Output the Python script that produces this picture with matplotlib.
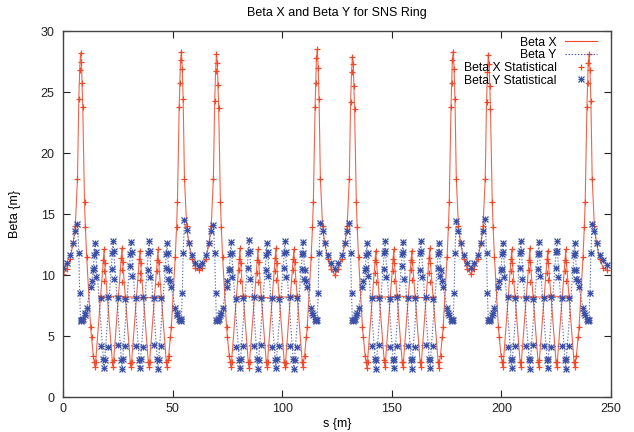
import numpy as np
import matplotlib.pyplot as plt
from matplotlib.lines import Line2D
from matplotlib.legend_handler import HandlerTuple

plt.rcParams['font.family'] = ['Liberation Sans', 'DejaVu Sans']
nan = np.nan

# lattice points, s in m
s_line = [
    # straight section around s=0 (right half)
    0.0, 1.6, 3.2, 4.6, 5.6, 6.6, 7.2, 7.6, 8.0, 8.4, 8.7, 9.0, 9.8, 10.2, 10.8, 12.6, 13.0, 13.8,
    # arc 1
    14.3, 14.6, 14.9, 18.4, 18.7, 19.0, 22.5, 22.8, 23.1, 26.6, 26.9, 27.2, 30.7, 31.0, 31.3,
    34.8, 35.1, 35.4, 38.9, 39.2, 39.5, 43.0, 43.3, 43.6, 47.1, 47.4, 47.7,
    # straight around s=62
    48.2, 49.0, 49.4, 51.2, 51.8, 52.2, 53.0, 53.3, 53.6, 54.0, 54.4, 54.8, 55.4, 56.4, 57.4, 58.8, 60.4,
    62.0, 63.6, 65.2, 66.6, 67.6, 68.6, 69.2, 69.6, 70.0, 70.4, 70.7, 71.0, 71.8, 72.2, 72.8, 74.6, 75.0, 75.8,
    # arc 2
    76.3, 76.6, 76.9, 80.4, 80.7, 81.0, 84.5, 84.8, 85.1, 88.6, 88.9, 89.2, 92.7, 93.0, 93.3,
    96.8, 97.1, 97.4, 100.9, 101.2, 101.5, 105.0, 105.3, 105.6, 109.1, 109.4, 109.7,
    # straight around s=124
    110.2, 111.0, 111.4, 113.2, 113.8, 114.2, 115.0, 115.3, 115.6, 116.0, 116.4, 116.8, 117.4, 118.4, 119.4, 120.8, 122.4,
    124.0, 125.6, 127.2, 128.6, 129.6, 130.6, 131.2, 131.6, 132.0, 132.4, 132.7, 133.0, 133.8, 134.2, 134.8, 136.6, 137.0, 137.8,
    # arc 3
    138.3, 138.6, 138.9, 142.4, 142.7, 143.0, 146.5, 146.8, 147.1, 150.6, 150.9, 151.2, 154.7, 155.0, 155.3,
    158.8, 159.1, 159.4, 162.9, 163.2, 163.5, 167.0, 167.3, 167.6, 171.1, 171.4, 171.7,
    # straight around s=186
    172.2, 173.0, 173.4, 175.2, 175.8, 176.2, 177.0, 177.3, 177.6, 178.0, 178.4, 178.8, 179.4, 180.4, 181.4, 182.8, 184.4,
    186.0, 187.6, 189.2, 190.6, 191.6, 192.6, 193.2, 193.6, 194.0, 194.4, 194.7, 195.0, 195.8, 196.2, 196.8, 198.6, 199.0, 199.8,
    # arc 4
    200.3, 200.6, 200.9, 204.4, 204.7, 205.0, 208.5, 208.8, 209.1, 212.6, 212.9, 213.2, 216.7, 217.0, 217.3,
    220.8, 221.1, 221.4, 224.9, 225.2, 225.5, 229.0, 229.3, 229.6, 233.1, 233.4, 233.7,
    # straight around s=248 (left half)
    234.2, 235.0, 235.4, 237.2, 237.8, 238.2, 239.0, 239.3, 239.6, 240.0, 240.4, 240.8, 241.4, 242.4, 243.4, 244.8, 246.4, 248.0,
]

bx_line = [
    10.1, 10.5, 11.3, 12.6, 14.0, 17.9, 24.4, 26.8, 28.2, 27.5, 25.7, 23.8, 16.0, 13.9, 11.5, 5.7, 4.9, 3.4,
    2.9, 2.5, 2.9, 11.2, 12.1, 11.0, 2.9, 2.5, 3.0, 11.4, 12.2, 11.1, 2.8, 2.5, 2.9,
    11.3, 12.0, 11.0, 2.9, 2.5, 2.9, 11.2, 12.1, 11.1, 2.9, 2.5, 3.0,
    3.4, 4.9, 5.7, 11.5, 13.9, 16.0, 23.8, 25.7, 27.6, 28.3, 26.9, 24.4, 17.9, 14.0, 12.6, 11.3, 10.6,
    10.4, 10.6, 11.3, 12.6, 14.0, 17.9, 24.3, 26.7, 28.1, 27.4, 25.6, 23.7, 16.0, 13.9, 11.5, 5.7, 4.9, 3.4,
    2.9, 2.5, 2.9, 11.3, 12.2, 11.0, 2.9, 2.4, 2.9, 11.2, 12.1, 11.1, 2.9, 2.5, 2.9,
    11.4, 12.2, 11.0, 2.9, 2.5, 2.8, 11.3, 12.1, 11.1, 2.9, 2.5, 2.9,
    3.4, 4.9, 5.7, 11.5, 13.9, 16.0, 23.8, 25.7, 27.8, 28.5, 27.0, 24.4, 17.9, 14.0, 12.6, 11.3, 10.5,
    10.0, 10.5, 11.3, 12.6, 14.0, 17.9, 24.2, 26.6, 27.9, 27.3, 25.5, 23.6, 16.0, 13.9, 11.5, 5.7, 4.9, 3.4,
    2.9, 2.4, 2.9, 11.2, 12.0, 11.1, 3.0, 2.5, 2.9, 11.3, 12.1, 11.0, 2.9, 2.5, 2.9,
    11.2, 12.0, 11.1, 2.9, 2.5, 2.9, 11.4, 12.2, 11.0, 2.9, 2.4, 2.9,
    3.4, 4.9, 5.7, 11.5, 13.9, 16.0, 23.8, 25.7, 27.6, 28.3, 26.9, 24.4, 17.9, 14.0, 12.6, 11.3, 10.5,
    10.1, 10.5, 11.3, 12.6, 14.0, 17.9, 24.2, 26.6, 28.0, 27.3, 25.5, 23.6, 16.0, 13.9, 11.5, 5.7, 4.9, 3.4,
    2.9, 2.5, 2.9, 11.3, 12.1, 11.0, 2.9, 2.5, 2.9, 11.2, 12.2, 11.1, 2.9, 2.5, 3.0,
    11.3, 12.0, 11.0, 2.9, 2.5, 2.9, 11.2, 12.1, 11.1, 2.9, 2.5, 2.9,
    3.4, 4.9, 5.7, 11.5, 13.9, 16.0, 23.8, 25.7, 27.4, 28.1, 26.8, 24.3, 17.9, 14.0, 12.6, 11.3, 10.6, 10.4,
]

by_line = [
    10.6, 11.0, 11.6, 12.6, 13.6, 14.2, 11.8, 8.5, 6.3, 6.2, 6.3, 6.4, 6.7, 6.9, 7.3, 9.0, 9.5, 10.4,
    11.6, 12.6, 11.9, 3.1, 2.4, 3.0, 11.8, 12.8, 12.0, 3.0, 2.3, 3.1, 11.7, 12.7, 11.9,
    3.0, 2.4, 3.1, 11.8, 12.8, 12.0, 3.1, 2.3, 3.0, 11.7, 12.6, 11.8,
    10.4, 9.5, 9.0, 7.3, 6.9, 6.7, 6.4, 6.3, 6.2, 6.4, 8.5, 11.8, 14.5, 13.7, 12.6, 11.6, 11.0,
    10.7, 11.0, 11.6, 12.6, 13.6, 14.1, 11.8, 8.5, 6.3, 6.2, 6.3, 6.4, 6.7, 6.9, 7.3, 9.0, 9.5, 10.4,
    11.7, 12.7, 11.8, 3.0, 2.4, 3.1, 11.8, 12.9, 12.0, 3.1, 2.3, 3.0, 11.6, 12.6, 11.9,
    3.0, 2.4, 3.1, 11.8, 12.8, 11.9, 3.1, 2.3, 3.0, 11.7, 12.7, 11.8,
    10.4, 9.5, 9.0, 7.3, 6.9, 6.7, 6.4, 6.3, 6.2, 6.3, 8.5, 11.8, 14.3, 13.6, 12.6, 11.6, 11.0,
    10.5, 11.0, 11.6, 12.6, 13.6, 14.3, 11.8, 8.5, 6.3, 6.2, 6.3, 6.4, 6.7, 6.9, 7.3, 9.0, 9.5, 10.4,
    11.6, 12.6, 11.8, 3.1, 2.3, 3.0, 11.8, 12.8, 12.0, 3.0, 2.4, 3.1, 11.7, 12.7, 11.9,
    3.0, 2.3, 3.1, 11.8, 12.8, 12.0, 3.1, 2.4, 3.0, 11.7, 12.6, 11.9,
    10.4, 9.5, 9.0, 7.3, 6.9, 6.7, 6.4, 6.3, 6.2, 6.3, 8.5, 11.8, 14.4, 13.6, 12.6, 11.6, 11.0,
    10.6, 11.0, 11.6, 12.6, 13.6, 14.6, 11.8, 8.5, 6.3, 6.2, 6.3, 6.4, 6.7, 6.9, 7.3, 9.0, 9.5, 10.4,
    11.7, 12.6, 11.9, 3.0, 2.4, 3.1, 11.8, 12.8, 12.0, 3.1, 2.3, 3.0, 11.7, 12.7, 11.8,
    3.0, 2.4, 3.1, 11.9, 12.8, 12.0, 3.0, 2.3, 3.1, 11.6, 12.6, 11.8,
    10.4, 9.5, 9.0, 7.3, 6.9, 6.7, 6.4, 6.3, 6.2, 6.3, 8.5, 11.8, 14.2, 13.6, 12.6, 11.6, 11.2, 10.8,
]

# dipole points in the arcs (flat rows in the plot)
s_dip = [
    17.1, 20.3, 25.3, 28.5, 33.5, 36.7, 41.7, 44.9, nan,
    79.1, 82.3, 87.3, 90.5, 95.5, 98.7, 103.7, 106.9, nan,
    141.1, 144.3, 149.3, 152.5, 157.5, 160.7, 165.7, 168.9, nan,
    203.1, 206.3, 211.3, 214.5, 219.5, 222.7, 227.7, 230.9,
]
bx_dip = [
    8.2, 8.2, 8.3, 8.2, 8.2, 8.1, 8.2, 8.2, nan,
    8.2, 8.3, 8.2, 8.2, 8.1, 8.2, 8.2, 8.3, nan,
    8.2, 8.2, 8.2, 8.3, 8.2, 8.2, 8.1, 8.2, nan,
    8.3, 8.2, 8.2, 8.2, 8.2, 8.3, 8.2, 8.2,
]
by_dip_lo = [
    4.2, 4.1, 4.3, 4.2, 4.2, 4.1, 4.3, 4.2, nan,
    4.1, 4.2, 4.2, 4.3, 4.1, 4.2, 4.2, 4.1, nan,
    4.2, 4.3, 4.1, 4.2, 4.2, 4.1, 4.3, 4.2, nan,
    4.1, 4.2, 4.2, 4.3, 4.2, 4.1, 4.2, 4.2,
]
by_dip_hi = [
    8.1, 8.2, 8.1, 8.0, 8.1, 8.2, 8.1, 8.1, nan,
    8.0, 8.1, 8.2, 8.1, 8.1, 8.0, 8.2, 8.1, nan,
    8.1, 8.1, 8.0, 8.2, 8.1, 8.1, 8.2, 8.0, nan,
    8.2, 8.1, 8.1, 8.0, 8.1, 8.2, 8.1, 8.1,
]

# extra statistical samples stacked inside the arc quadrupoles
s_qf = [
    18.5, 18.9, 26.7, 27.1, 34.9, 35.3, 43.1, 43.5,
    80.5, 80.9, 88.7, 89.1, 96.9, 97.3, 105.1, 105.5,
    142.5, 142.9, 150.7, 151.1, 158.9, 159.3, 167.1, 167.5,
    204.5, 204.9, 212.7, 213.1, 220.9, 221.3, 229.1, 229.5,
]
bx_qf = [
    10.3, 9.5, 10.4, 9.4, 10.2, 9.6, 10.3, 9.3,
    10.4, 9.5, 10.2, 9.4, 10.3, 9.6, 10.4, 9.5,
    10.2, 9.4, 10.3, 9.5, 10.4, 9.6, 10.2, 9.4,
    10.3, 9.5, 10.4, 9.4, 10.2, 9.6, 10.3, 9.5,
]
s_qd = [
    14.2, 15.0, 22.4, 23.2, 30.6, 31.4, 38.8, 39.6, 47.0, 47.8,
    76.2, 77.0, 84.4, 85.2, 92.6, 93.4, 100.8, 101.6, 109.0, 109.8,
    138.2, 139.0, 146.4, 147.2, 154.6, 155.4, 162.8, 163.6, 171.0, 171.8,
    200.2, 201.0, 208.4, 209.2, 216.6, 217.4, 224.8, 225.6, 233.0, 233.8,
]
by_qd = [
    10.6, 9.8, 10.5, 9.7, 10.7, 9.9, 10.4, 9.8, 10.6, 9.7,
    10.5, 9.8, 10.6, 9.7, 10.4, 9.9, 10.6, 9.8, 10.5, 9.7,
    10.6, 9.9, 10.5, 9.8, 10.7, 9.7, 10.4, 9.8, 10.6, 9.9,
    10.5, 9.8, 10.6, 9.7, 10.5, 9.9, 10.6, 9.8, 10.4, 9.7,
]

red = '#ee4a2a'
blue = '#3b50a6'
dotted = (0, (1.2, 1.6))

fig = plt.figure(figsize=(6.34, 4.32), dpi=100)
ax = fig.add_axes([0.0994, 0.081, 0.8644, 0.8472])

ax.plot(s_line, bx_line, color=red, lw=0.8, alpha=0.85)
ax.plot(s_dip, bx_dip, color=red, lw=0.8, alpha=0.85)
ax.plot(s_line, by_line, color=blue, lw=0.8, ls=dotted, alpha=0.85)
ax.plot(s_dip, by_dip_lo, color=blue, lw=0.8, ls=dotted, alpha=0.85)
ax.plot(s_dip, by_dip_hi, color=blue, lw=0.8, ls=dotted, alpha=0.85)

mk = dict(ls='none', ms=5, mew=0.9)
mkx = dict(ls='none', ms=4, mew=0.9)
ax.plot(s_line, bx_line, marker='+', color=red, **mk)
ax.plot(s_dip, bx_dip, marker='+', color=red, **mk)
ax.plot(s_qf, bx_qf, marker='+', color=red, **mk)
for xs, ys in ((s_line, by_line), (s_dip, by_dip_lo), (s_dip, by_dip_hi), (s_qd, by_qd)):
    ax.plot(xs, ys, marker='+', color=blue, **mk)
    ax.plot(xs, ys, marker='x', color=blue, **mkx)

ax.set_xlim(0, 250)
ax.set_ylim(0, 30)
ax.set_xticks([0, 50, 100, 150, 200, 250])
ax.set_yticks([0, 5, 10, 15, 20, 25, 30])
ax.tick_params(direction='in', length=5, width=0.8, top=True, right=True,
               labelsize=9, colors='#222222')
ax.tick_params(axis='x', pad=4)
ax.tick_params(axis='y', pad=6)
for sp in ax.spines.values():
    sp.set_color('#444444')
    sp.set_linewidth(1.0)

fig.text(0.5315, 0.970, 'Beta X and Beta Y for SNS Ring', ha='center', va='center', fontsize=9)
fig.text(0.5315, 0.018, 's {m}', ha='center', va='center', fontsize=9)
fig.text(0.024, 0.505, 'Beta {m}', ha='center', va='center', rotation=90, fontsize=9)

h1 = Line2D([], [], color=red, lw=0.8)
h2 = Line2D([], [], color=blue, lw=0.8, ls=dotted)
h3 = Line2D([], [], color=red, marker='+', **mk)
h4a = Line2D([], [], color=blue, marker='+', **mk)
h4b = Line2D([], [], color=blue, marker='x', **mkx)
ax.legend([h1, h2, h3, (h4a, h4b)],
          ['Beta X', 'Beta Y', 'Beta X Statistical', 'Beta Y Statistical'],
          handler_map={tuple: HandlerTuple(ndivide=1, pad=0)},
          loc='upper right', bbox_to_anchor=(0.9745, 0.985), frameon=False,
          markerfirst=False, fontsize=8.8, handlelength=2.65, handletextpad=0.66,
          labelspacing=0.06, borderpad=0, borderaxespad=0)

fig.savefig('out.png', dpi=100)
